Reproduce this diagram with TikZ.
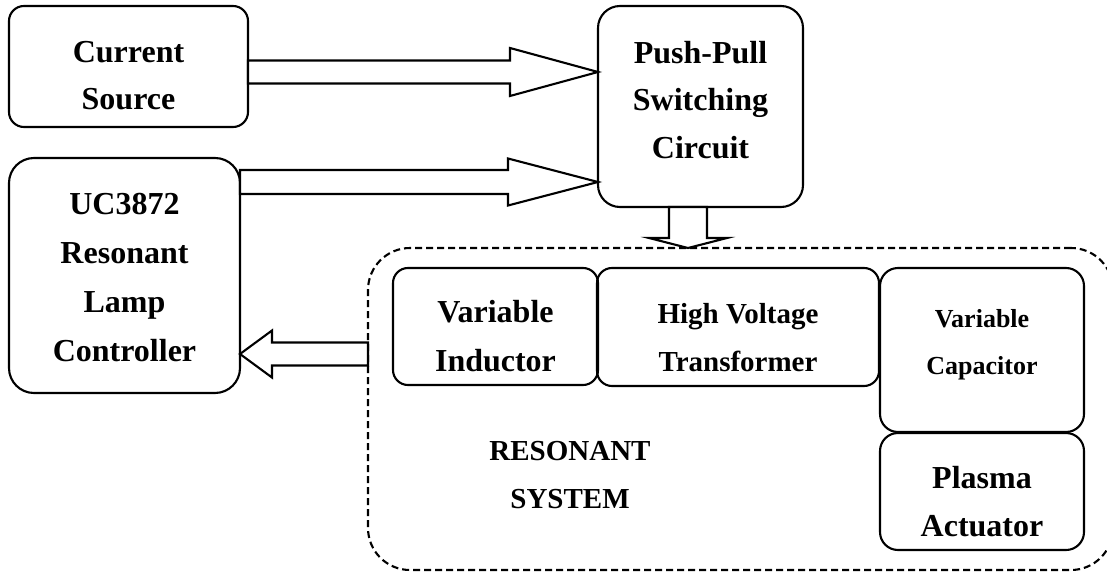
\documentclass[tikz,border=0pt]{standalone}
\usepackage{fontspec}
\setmainfont{Liberation Serif}
\usetikzlibrary{calc}
\newcommand\blockarrow[5]{%
  \coordinate (ba-h) at ($(#2)!#5!(#1)$);
  \draw[arr] ($(#1)!#3!90:(#2)$) -- ($(ba-h)!#3!-90:(#1)$) -- ($(ba-h)!#4!-90:(#1)$) -- (#2)
     -- ($(ba-h)!#4!90:(#1)$) -- ($(ba-h)!#3!90:(#1)$) -- ($(#1)!#3!-90:(#2)$) -- cycle;
}
\begin{document}
\begin{tikzpicture}[x=1pt,y=-1pt,
  box/.style={draw, line width=2.1pt, rounded corners=#1, inner sep=0pt, outer sep=0pt},
  lbl/.style={align=center, inner sep=0pt},
  arr/.style={draw, line width=2.1pt, line join=miter, fill=white},
  f32/.style={font=\fontsize{32}{48}\selectfont\bfseries},
  f29/.style={font=\fontsize{29}{48}\selectfont\bfseries},
  f26/.style={font=\fontsize{26}{47}\selectfont\bfseries}]
\useasboundingbox (0,0) rectangle (1107,580);

% boxes
\node[box=15pt, minimum width=239pt, minimum height=121pt] (cs) at (128.5,66.5) {};
\node[box=25pt, minimum width=231pt, minimum height=235pt] (uc) at (124.5,275.5) {};
\node[box=22pt, minimum width=205pt, minimum height=201pt] (pp) at (700.5,106.5) {};
\node[box=42pt, dash pattern=on 7pt off 4pt, minimum width=745pt, minimum height=322pt] (rsys) at (740.5,409) {};
\node[box=15pt, minimum width=205pt, minimum height=117pt] (vi) at (495.5,326.5) {};
\node[box=15pt, minimum width=282pt, minimum height=118pt] (hv) at (738,327) {};
\node[box=18pt, minimum width=204pt, minimum height=164pt] (vc) at (982,350) {};
\node[box=18pt, minimum width=204pt, minimum height=117pt] (pa) at (982,491.5) {};

% texts
\node[lbl, font=\fontsize{32}{47}\selectfont\bfseries] (cs-t) at ($(cs.center)+(0,9.5)$) {Current\\Source};
\node[lbl, font=\fontsize{32}{49}\selectfont\bfseries] (uc-t) at ($(uc.center)+(0,2.3)$) {UC3872\\Resonant\\Lamp\\Controller};
\node[lbl, font=\fontsize{32}{47.5}\selectfont\bfseries] (pp-t) at ($(pp.center)+(0,-6.7)$) {Push-Pull\\Switching\\Circuit};
\node[lbl, font=\fontsize{32}{49}\selectfont\bfseries] (vi-t) at ($(vi.center)+(0,9.3)$) {Variable\\Inductor};
\node[lbl, f29] (hv-t) at ($(hv.center)+(0,11)$) {High Voltage\\Transformer};
\node[lbl, f26] (vc-t) at ($(vc.center)+(0,-5.2)$) {Variable\\Capacitor};
\node[lbl, f32] (pa-t) at ($(pa.center)+(0,10)$) {Plasma\\Actuator};
\node[lbl, font=\fontsize{29}{47.6}\selectfont\bfseries] (rs-t) at (570,475) {RESONANT\\SYSTEM};

% connectors
\coordinate (a1s) at ($(cs.east)+(0,5.5)$);
\coordinate (a1e) at (pp.west |- a1s);
\coordinate (a2s) at ($(uc.north east)+(0,24)$);
\coordinate (a2e) at (pp.west |- a2s);
\coordinate (a3s) at ($(pp.south)+(-12.5,0)$);
\coordinate (a3e) at (a3s |- rsys.north);
\coordinate (a4s) at ($(rsys.west)+(0,-55)$);
\coordinate (a4e) at (uc.east |- a4s);
\blockarrow{a1s}{a1e}{11.5pt}{24pt}{88pt}
\blockarrow{a2s}{a2e}{12pt}{23.5pt}{90pt}
\blockarrow{a3s}{a3e}{19pt}{39pt}{10pt}
\blockarrow{a4s}{a4e}{11.5pt}{23.5pt}{32pt}
\end{tikzpicture}
\end{document}
